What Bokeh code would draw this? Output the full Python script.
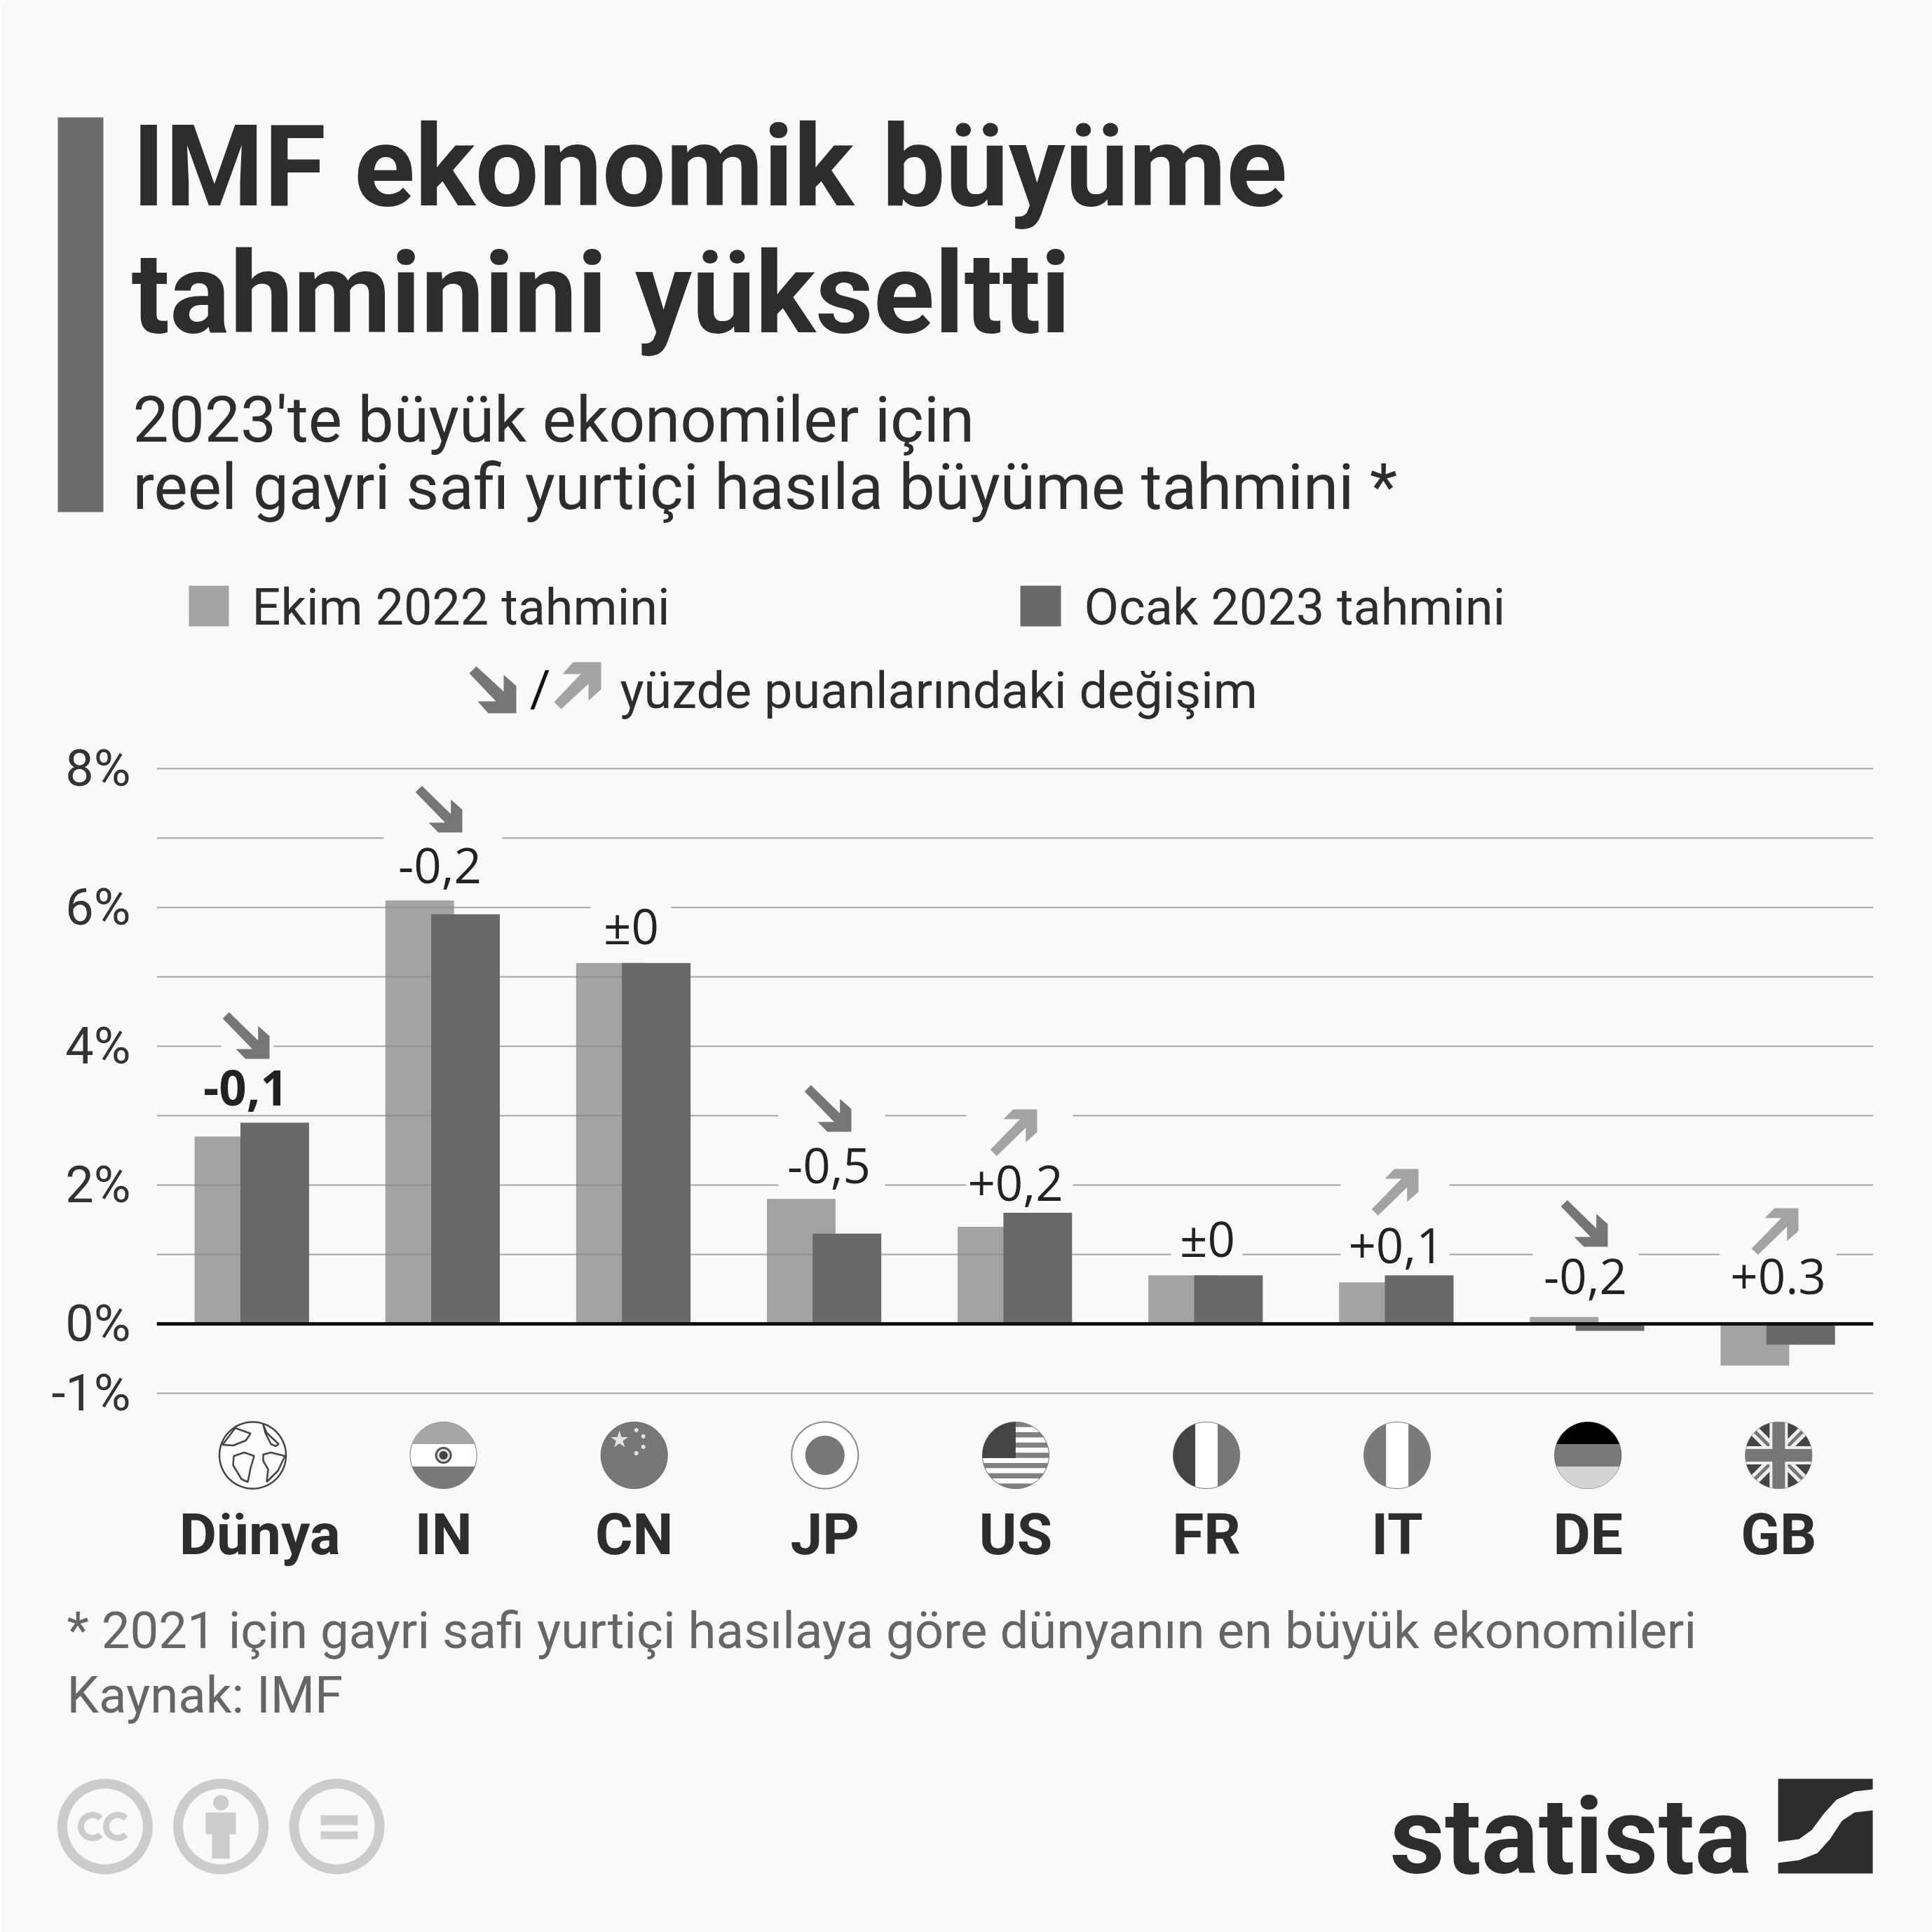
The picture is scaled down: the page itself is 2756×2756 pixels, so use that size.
import math
from bokeh.plotting import figure
from bokeh.models import Range1d, FixedTicker, PrintfTickFormatter, Span
from bokeh.core.properties import value
from bokeh.transform import dodge
from bokeh.embed import file_html
from bokeh.resources import INLINE

# ---- data ----
categories = ["Dünya", "IN", "CN", "JP", "US", "FR", "IT", "DE", "GB"]
oct_2022 = [2.7, 6.1, 5.2, 1.8, 1.4, 0.7, 0.6, 0.1, -0.6]
jan_2023 = [2.9, 5.9, 5.2, 1.3, 1.6, 0.7, 0.7, -0.1, -0.3]
changes = ["-0,1", "-0,2", "±0", "-0,5", "+0,2", "±0", "+0,1", "-0,2", "+0.3"]
y_major = [-1, 0, 2, 4, 6, 8]
y_minor = [1, 3, 5, 7]
legend_labels = ["Ekim 2022 tahmini", "Ocak 2023 tahmini"]
legend_change = "yüzde puanlarındaki değişim"
title_lines = ["IMF ekonomik büyüme", "tahminini yükseltti"]
subtitle_lines = ["2023'te büyük ekonomiler için", "reel gayri safi yurtiçi hasıla büyüme tahmini *"]
footer_lines = ["* 2021 için gayri safi yurtiçi hasılaya göre dünyanın en büyük ekonomileri", "Kaynak: IMF"]
brand = "statista"

BG = "#f9f9f9"; LIGHT = "#a3a3a3"; DARK = "#696969"; INK = "#2d2d2d"
FONT = "Open Sans"; NARROW = "Roboto"
W = H = 2756
FL, FR_, FT, FB = 223, 2672, 1091, 1992   # frame in page pixels
idx = list(range(len(categories)))

p = figure(width=W, height=H, x_range=Range1d(-0.5035, 8.497), y_range=Range1d(-1.05, 8.05),
           output_backend="svg", toolbar_location=None,
           min_border_left=FL, min_border_right=W-FR_,
           min_border_top=FT, min_border_bottom=H-FB,
           background_fill_color=BG, border_fill_color=BG, outline_line_color=None)
p.extra_x_ranges["px"] = Range1d(FL, FR_)
p.extra_y_ranges["px"] = Range1d(FB, FT)

# axes / grid
ya = p.yaxis[0]
ya.ticker = FixedTicker(ticks=y_major, minor_ticks=y_minor)
ya.formatter = PrintfTickFormatter(format="%d%%")
ya.axis_line_color = None; ya.major_tick_line_color = None; ya.minor_tick_line_color = None
ya.major_label_text_font = NARROW; ya.major_label_text_font_size = "72px"
ya.major_label_text_color = "#333333"; ya.major_label_standoff = 31
g = p.ygrid[0]
g.ticker = ya.ticker
g.level = "underlay"
g.grid_line_color = "#888888"; g.grid_line_alpha = 0.75; g.grid_line_width = 2
g.minor_grid_line_color = "#888888"; g.minor_grid_line_alpha = 0.75; g.minor_grid_line_width = 2
p.xgrid.visible = False
xa = p.xaxis[0]
xa.ticker = FixedTicker(ticks=idx)
xa.axis_line_color = None; xa.major_tick_line_color = None; xa.minor_tick_line_color = None
xa.major_label_text_font = NARROW; xa.major_label_text_font_style = "bold"
xa.major_label_text_font_size = "82px"; xa.major_label_text_color = INK
xa.major_label_standoff = 142
xa.major_label_orientation = "horizontal"
xa.major_label_overrides = {i: ("\u00a0" + c if i == 0 else c) for i, c in enumerate(categories)}

# bars
src = dict(i=idx, a=oct_2022, b=jan_2023)
p.vbar(x=dodge("i", -0.1245), top="a", bottom=0, width=0.36, source=src,
       fill_color=LIGHT, line_color=None, level="image")
p.vbar(x=dodge("i", 0.1155), top="b", bottom=0, width=0.36, source=src,
       fill_color=DARK, line_color=None)

# gaps in grid behind the change labels (page pixels)
gaps = [(547, 716, 1196), (842, 957, 1295), (315, 390, 1492), (1110, 1262, 1591), (1378, 1530, 1591),
        (1110, 1262, 1690), (1378, 1530, 1690), (1670, 1772, 1789), (1912, 2067, 1690), (1912, 2067, 1789),
        (2186, 2337, 1789), (2453, 2619, 1789)]
p.quad(left=[a for a, _, _ in gaps], right=[b for _, b, _ in gaps],
       top=[c-5 for *_, c in gaps], bottom=[c+5 for *_, c in gaps],
       fill_color=BG, line_color=None, x_range_name="px", y_range_name="px")
p.add_layout(Span(location=0, dimension="width", line_color="#111111", line_width=5, level="overlay"))

# ---- drawing helpers in page pixels ----
kw = dict(x_range_name="px", y_range_name="px", level="overlay")
BASE_K = {FONT: 0.37, NARROW: 0.345}

def poly(xs, ys, color):
    p.patch(list(xs), list(ys), fill_color=color, line_color=None, **kw)

def text(x, y, s, size, color=INK, bold=False, align="left", font=NARROW):
    p.text([x], [y - BASE_K[font]*size], text=[s], text_font=value(font), text_font_size=f"{size}px",
           text_font_style="bold" if bold else "normal", text_color=color,
           text_align=align, text_baseline="alphabetic", **kw)

def circ(r, n=120):
    return [(r*math.cos(2*math.pi*i/n), r*math.sin(2*math.pi*i/n)) for i in range(n)]

def clip(subject, clipper):
    out = subject
    for i in range(len(clipper)):
        ax, ay = clipper[i]; bx, by = clipper[(i+1) % len(clipper)]
        inp, out = out, []
        side = lambda q: (bx-ax)*(q[1]-ay)-(by-ay)*(q[0]-ax)
        for j in range(len(inp)):
            c, d = inp[j], inp[(j+1) % len(inp)]
            sc, sd = side(c), side(d)
            if sc >= 0:
                out.append(c)
            if sc*sd < 0:
                t_ = sc/(sc-sd)
                out.append((c[0]+t_*(d[0]-c[0]), c[1]+t_*(d[1]-c[1])))
        if not out:
            return []
    return out

R = 47.5
CIRC = circ(R)

def rect(x0, x1, y0, y1):
    return [(x0, y0), (x1, y0), (x1, y1), (x0, y1)]

def flag_part(cx, cy, shape, color):
    c = clip(shape, CIRC)
    if c:
        poly([cx+q[0] for q in c], [cy+q[1] for q in c], color)

def disc(cx, cy, r, color, line=None, lw=1):
    c = circ(r)
    p.patch([cx+q[0] for q in c], [cy+q[1] for q in c], fill_color=color, line_color=line, line_width=lw, **kw)

def band(dx, dy, w):
    L = math.hypot(dx, dy); ux, uy = dx/L, dy/L; nx, ny = -uy*w/2, ux*w/2
    s = 90
    return [(-ux*s+nx, -uy*s+ny), (ux*s+nx, uy*s+ny), (ux*s-nx, uy*s-ny), (-ux*s-nx, -uy*s-ny)]

ARROW = [(-66.8, -57.5), (-57.7, -66.4), (-16.3, -26.2), (-16.3, -47), (0, -32.4), (0, 0), (-34.2, 0), (-48, -14.1), (-24.5, -14.1)]
ARROW_L = [(-67, -57), (-57, -67), (-18, -31), (-18, -55), (0, -39), (0, 0), (-40, 0), (-55, -17), (-29, -17)]

def arrow_down(x, y, shape=ARROW):
    poly([x+q[0] for q in shape], [y+q[1] for q in shape], "#767676")

def arrow_up(x, y, shape=ARROW):
    poly([x+q[0] for q in shape], [y-q[1] for q in shape], "#a3a3a3")

# ---- header ----
poly([82, 147, 147, 82], [167, 167, 730, 730], "#6a6a6a")
text(188, 293, title_lines[0], 161, bold=True)
text(187, 474, title_lines[1], 161, bold=True)
text(189, 630, subtitle_lines[0], 91)
text(189, 726, subtitle_lines[1], 91)

# ---- legend ----
poly([269, 326, 326, 269], [835, 835, 893, 893], LIGHT)
poly([1455, 1513, 1513, 1455], [835, 835, 893, 893], DARK)
text(359, 891, legend_labels[0], 72)
text(1546, 891, legend_labels[1], 72)
arrow_down(736, 1017, ARROW_L)
text(770, 1008, "/", 72, color="#111111", align="center")
arrow_up(857, 944, ARROW_L)
text(884, 1010, legend_change, 72)

# ---- change labels and arrows ----
label_pos = [(350, 1577), (627, 1260), (900, 1345), (1182, 1688), (1448, 1713), (1722, 1791), (1991, 1802), (2261, 1846), (2536, 1846)]
for i, (s, (x, y)) in enumerate(zip(changes, label_pos)):
    text(x, y, s, 69, color="#222222", bold=(i == 0), align="center", font=FONT)
for x, y in [(384, 1510), (659, 1187), (1214, 1614), (2293, 1778)]:
    arrow_down(x, y)
for x, y in [(1479, 1582), (2023, 1667), (2565, 1723)]:
    arrow_up(x, y)

# ---- flags ----
CY = 2075.5
fx = [360 + 272.1*i for i in range(9)]
# world
disc(fx[0], CY, R, "#fbfbfb", "#444444", 2.5)
for blob in [
    [(-25, -39), (-3, -31), (-10, -21), (-28, -14), (-43, -15)],
    [(15, -44), (20, -32), (37, -16), (33, -13), (26, -16), (18, -32)],
    [(-27, 1), (-12, -4), (2, 1), (-3, 18), (-7, 38), (-16, 34), (-28, 14)],
    [(15, -1), (26, -4), (46, 1), (36, 22), (20, 38), (22, 20), (15, 8)],
]:
    p.patch([fx[0]+q[0] for q in blob], [CY+q[1] for q in blob], fill_color=None, line_color="#444444", line_width=2.5, **kw)
# India
disc(fx[1], CY, R, "#ffffff", "#777777")
flag_part(fx[1], CY, rect(-60, 60, -60, -16), "#a6a6a6")
flag_part(fx[1], CY, rect(-60, 60, 16, 60), "#7a7a7a")
disc(fx[1], CY, 12, "#555555"); disc(fx[1], CY, 9, "#dddddd"); disc(fx[1], CY, 6, "#444444")
# China
disc(fx[2], CY, R, "#777777", "#666666")
star = [(fx[2]-21+(13 if k % 2 == 0 else 5)*math.sin(k*math.pi/5), CY-22-(13 if k % 2 == 0 else 5)*math.cos(k*math.pi/5)) for k in range(10)]
poly([q[0] for q in star], [q[1] for q in star], "#e4e4e4")
for dx, dy in [(3, -36), (13, -27), (13, -12), (3, -3)]:
    disc(fx[2]+dx, CY+dy, 3, "#e4e4e4")
# Japan
disc(fx[3], CY, R, "#ffffff", "#888888", 2)
disc(fx[3], CY, 28, "#777777")
# US
disc(fx[4], CY, R, "#ffffff", "#666666")
h = 2*R/13
for k in range(0, 13, 2):
    flag_part(fx[4], CY, rect(-60, 60, -R+k*h, -R+(k+1)*h), "#808080")
flag_part(fx[4], CY, rect(-60, 0, -60, 4), "#444444")
dx_, dy_ = [], []
for r_ in range(7):
    for c_ in range(6):
        ax_, ay_ = -42+c_*7.6+(r_ % 2)*3.8, -41+r_*6.4
        if ax_*ax_+ay_*ay_ < 44*44 and ax_ < -1:
            dx_.append(fx[4]+ax_); dy_.append(CY+ay_)
p.scatter(dx_, dy_, size=4, marker="circle", fill_color="#ffffff", line_color=None, **kw)
# France
disc(fx[5], CY, R, "#ffffff", "#777777")
flag_part(fx[5], CY, rect(-60, -16, -60, 60), "#444444")
flag_part(fx[5], CY, rect(16, 60, -60, 60), "#777777")
# Italy
disc(fx[6], CY, R, "#ffffff", "#777777")
flag_part(fx[6], CY, rect(-60, -16, -60, 60), "#7a7a7a")
flag_part(fx[6], CY, rect(16, 60, -60, 60), "#7a7a7a")
# Germany
disc(fx[7], CY, R, "#7a7a7a", "#666666")
flag_part(fx[7], CY, rect(-60, 60, -60, -16), "#000000")
flag_part(fx[7], CY, rect(-60, 60, 16, 60), "#d4d4d4")
# UK
disc(fx[8], CY, R, "#444444", "#555555")
for d in [(1, 1), (1, -1)]:
    flag_part(fx[8], CY, band(d[0], d[1], 15), "#eeeeee")
for d in [(1, 1), (1, -1)]:
    flag_part(fx[8], CY, band(d[0], d[1], 5), "#777777")
flag_part(fx[8], CY, band(1, 0, 26), "#eeeeee")
flag_part(fx[8], CY, band(0, 1, 26), "#eeeeee")
flag_part(fx[8], CY, band(1, 0, 18), "#777777")
flag_part(fx[8], CY, band(0, 1, 18), "#777777")

# ---- footer ----
text(95, 2351, footer_lines[0], 72.5, color="#666666")
text(95, 2443, footer_lines[1], 72.5, color="#666666")

# CC icons
ICO = "#cccccc"; ICY = 2605
for cx in [149.4, 314.6, 480]:
    disc(cx, ICY, 61, None, ICO, 14)
for dx in [-18, 18]:
    p.annular_wedge([149.4+dx], [ICY], inner_radius=12, outer_radius=21, start_angle=0.8, end_angle=-0.8,
                    fill_color=ICO, line_color=None, **kw)
disc(314.6, 2571, 11, ICO)
poly([293, 336, 336, 327, 327, 302, 302, 293], [2585, 2585, 2616, 2616, 2651, 2651, 2616, 2616], ICO)
poly([457, 510, 510, 457], [2589, 2589, 2603, 2603], ICO)
poly([457, 510, 510, 457], [2612, 2612, 2623, 2623], ICO)

# brand
text(1982, 2672, brand, 153, color=INK, bold=True)
poly([2536, 2671, 2671, 2645, 2619, 2601, 2584, 2566, 2536],
     [2537, 2537, 2552, 2555, 2567, 2587, 2610, 2623, 2627], INK)
poly([2671, 2645, 2627, 2610, 2592, 2566, 2536, 2536, 2671],
     [2582, 2585, 2597, 2623, 2643, 2653, 2657, 2672, 2672], INK)

open("out.html", "w").write(file_html(p, INLINE))
